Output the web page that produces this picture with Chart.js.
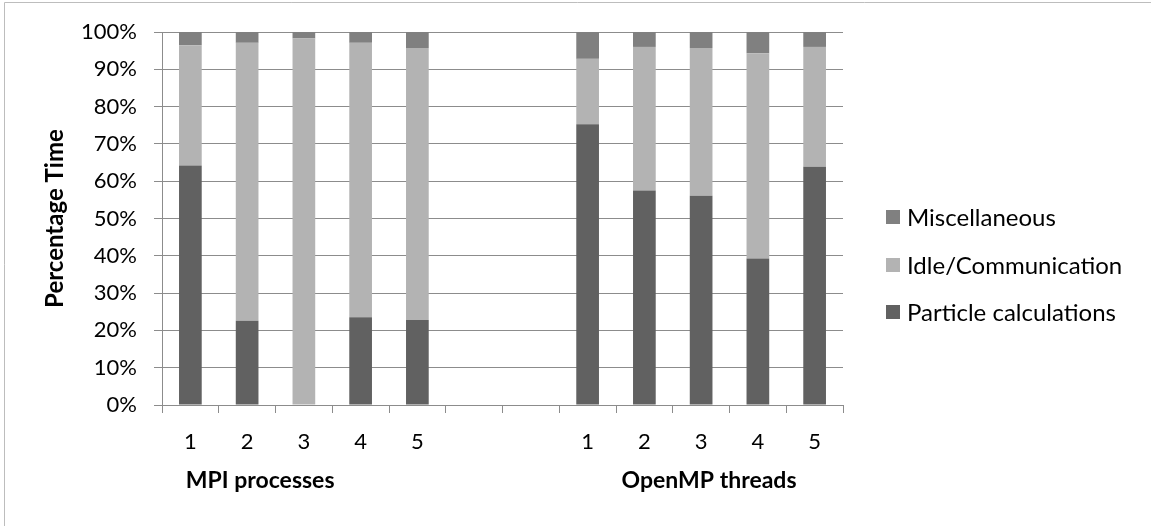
<!DOCTYPE html>
<html>
<head>
<meta charset="utf-8">
<script src="https://cdn.jsdelivr.net/npm/chart.js@4/dist/chart.umd.min.js"></script>
<style>
  html, body { margin: 0; padding: 0; background: #ffffff; }
  #wrap { position: relative; width: 1151px; height: 526px; }
</style>
</head>
<body>
<div id="wrap"><canvas id="c" width="1151" height="526"></canvas></div>
<script>
// Run labels: five MPI runs, two empty spacer slots, five OpenMP runs
const categories = ['1', '2', '3', '4', '5', '', '', '1', '2', '3', '4', '5'];

// Share of run time per component (%)
const particleCalc = [64.2, 22.6, 0, 23.5, 22.8, null, null, 75.3, 57.5, 56.1, 39.3, 63.9];
const idleComm     = [32.2, 74.5, 98.3, 73.6, 72.9, null, null, 17.5, 38.5, 39.6, 55.0, 32.1];
const misc         = [3.6, 2.9, 1.7, 2.9, 4.3, null, null, 7.2, 4.0, 4.3, 5.7, 4.0];

const seriesNames = ['Particle calculations', 'Idle/Communication', 'Miscellaneous'];
const groupNames = ['MPI processes', 'OpenMP threads'];

const FONT = 'Lato, "Open Sans", sans-serif';
const GRID = '#8c8c8c';

// Legend, axis title, group captions and frame
const extras = {
  id: 'extras',
  afterDraw(chart) {
    const ctx = chart.ctx;
    const area = chart.chartArea;
    ctx.save();

    // frame
    ctx.strokeStyle = '#bdbdbd';
    ctx.lineWidth = 1;
    ctx.beginPath();
    ctx.moveTo(4.5, 526);
    ctx.lineTo(4.5, 2.5);
    ctx.lineTo(1151, 2.5);
    ctx.stroke();

    // y axis title
    ctx.fillStyle = '#000000';
    ctx.font = 'bold 24px ' + FONT;
    ctx.textAlign = 'center';
    ctx.textBaseline = 'middle';
    ctx.translate(55, (area.top + area.bottom) / 2);
    ctx.rotate(-Math.PI / 2);
    ctx.fillText('Percentage Time', 0, 0);
    ctx.setTransform(1, 0, 0, 1, 0, 0);

    // group captions under the category axis
    const x = chart.scales.x;
    ctx.font = 'bold 23px ' + FONT;
    ctx.fillText(groupNames[0], x.getPixelForValue(1.23), 481);
    ctx.fillText(groupNames[1], x.getPixelForValue(9.14), 481);

    // legend (reverse stacking order)
    const ds = chart.data.datasets.slice().reverse();
    const rows = [217, 265, 312];
    ctx.font = '24px ' + FONT;
    ctx.textAlign = 'left';
    ds.forEach((d, i) => {
      ctx.fillStyle = d.backgroundColor;
      ctx.fillRect(886, rows[i] - 7, 14, 14);
      ctx.fillStyle = '#000000';
      ctx.fillText(d.label, 907, rows[i] + 1);
    });
    ctx.restore();
  }
};

new Chart(document.getElementById('c'), {
  type: 'bar',
  data: {
    labels: categories,
    datasets: [
      { label: seriesNames[0], data: particleCalc, backgroundColor: '#616161' },
      { label: seriesNames[1], data: idleComm, backgroundColor: '#b3b3b3' },
      { label: seriesNames[2], data: misc, backgroundColor: '#808080' }
    ]
  },
  options: {
    responsive: false,
    animation: false,
    layout: { padding: { left: 0, top: 32, right: 308, bottom: 0 } },
    datasets: { bar: { categoryPercentage: 1, barPercentage: 0.4 } },
    plugins: { legend: { display: false }, tooltip: { enabled: false } },
    scales: {
      x: {
        stacked: true,
        grid: { display: true, drawOnChartArea: false, offset: true, tickLength: 8, color: GRID },
        border: { display: true, color: GRID },
        ticks: { color: '#000000', font: { family: FONT, size: 22 }, padding: 16 },
        afterFit(s) { s.height = 121; }
      },
      y: {
        stacked: true,
        min: 0,
        max: 100,
        grid: { color: GRID, tickLength: 8 },
        border: { display: true, color: GRID },
        ticks: {
          stepSize: 10,
          color: '#000000',
          font: { family: FONT, size: 22 },
          padding: 17,
          callback: v => v + '%'
        },
        afterFit(s) { s.width = 162; }
      }
    }
  },
  plugins: [extras]
});
</script>
</body>
</html>
